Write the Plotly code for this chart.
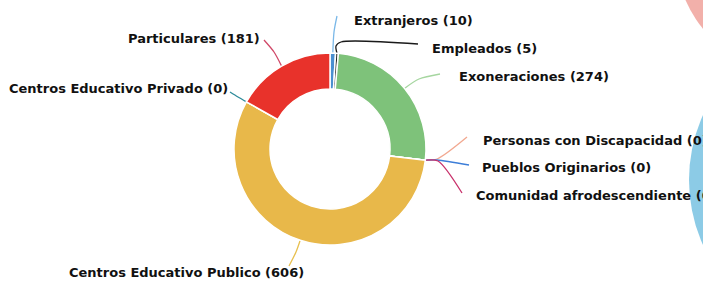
import math
import plotly.graph_objects as go

# ---------------- data ----------------
categories = [
    "Extranjeros", "Empleados", "Exoneraciones",
    "Personas con Discapacidad", "Pueblos Originarios", "Comunidad afrodescendiente",
    "Centros Educativo Publico", "Centros Educativo Privado", "Particulares",
]
values = [10, 5, 274, 0, 0, 0, 606, 0, 181]

# ---------------- styles / layout ----------------
W, H = 703, 283
CX, CY, R = 330, 149, 96          # donut centre / outer radius in pixels
HOLE = 0.625

slice_colors = ["#4a8fd0", "#2a2a2a", "#7ec27a", "#f4a590", "#3d7ed8",
                "#c8306a", "#e8b84a", "#2e8b9a", "#e8322b"]
line_colors = ["#7ab8e8", "#1a1a1a", "#a6d6a0", "#f2a890", "#3d7ed8",
               "#c8306a", "#e8c050", "#2e8b9a", "#d04868"]

# label anchor (text side x, text centre y) and text anchor side
label_pos = {
    "Extranjeros": (352, 20, "left"),
    "Empleados": (430, 48, "left"),
    "Exoneraciones": (457, 76, "left"),
    "Personas con Discapacidad": (481, 140, "left"),
    "Pueblos Originarios": (480, 167, "left"),
    "Comunidad afrodescendiente": (474, 195, "left"),
    "Centros Educativo Publico": (67, 272, "left"),
    "Centros Educativo Privado": (230, 88, "right"),
    "Particulares": (262, 38, "right"),
}
# end of leader line (near the label) and intermediate bend points
leader_end = {
    "Extranjeros": (337, 16),
    "Empleados": (418, 44),
    "Exoneraciones": (440, 74),
    "Personas con Discapacidad": (467, 137),
    "Pueblos Originarios": (469, 165),
    "Comunidad afrodescendiente": (462, 193),
    "Centros Educativo Publico": (289, 266),
    "Centros Educativo Privado": (230, 92),
    "Particulares": (264, 40),
}
leader_mid = {
    "Extranjeros": [(334, 32)],
    "Empleados": [(336, 46), (341, 42)],
    "Exoneraciones": [(419, 79)],
    "Personas con Discapacidad": [(437, 159)],
    "Pueblos Originarios": [(437, 160)],
    "Comunidad afrodescendiente": [(438, 161)],
    "Centros Educativo Publico": [(296, 252)],
    "Centros Educativo Privado": [(238, 97)],
    "Particulares": [(274, 52)],
}

fig = go.Figure()

# invisible helper trace so the pixel-based axes exist
fig.add_trace(go.Scatter(x=[0, W], y=[0, H], mode="markers",
                         marker=dict(opacity=0), hoverinfo="skip", showlegend=False))

# leader lines, starting on the outer edge at each slice's mid-angle
total = sum(values)
cum = 0
for name, v, lc in zip(categories, values, line_colors):
    mid = (cum + v / 2) / total * 2 * math.pi
    cum += v
    sx = CX + R * math.sin(mid)
    sy = CY - R * math.cos(mid)
    pts = [(sx, sy)] + leader_mid[name] + [leader_end[name]]
    fig.add_trace(go.Scatter(
        x=[p[0] for p in pts], y=[p[1] for p in pts], mode="lines",
        line=dict(color=lc, width=1.3, shape="spline", smoothing=0.8),
        hoverinfo="skip", showlegend=False))

# donut
fig.add_trace(go.Pie(
    labels=categories, values=values, sort=False, direction="clockwise",
    rotation=0, hole=HOLE, textinfo="none", showlegend=False,
    marker=dict(colors=slice_colors, line=dict(color="white", width=1.5)),
    domain=dict(x=[(CX - R) / W, (CX + R) / W],
                y=[1 - (CY + R) / H, 1 - (CY - R) / H]),
))

# labels
for name, v in zip(categories, values):
    x, y, side = label_pos[name]
    fig.add_annotation(x=x, y=y, xref="x", yref="y", text=f"<b>{name} ({v})</b>",
                       showarrow=False, xanchor=side, yanchor="middle",
                       font=dict(family="DejaVu Sans", size=13, color="#111111"))

# partially visible neighbouring charts at the right edge
fig.add_shape(type="circle", xref="x", yref="y", x0=675, x1=925, y0=-175, y1=75,
              fillcolor="#f2b0aa", line=dict(width=0), layer="below")
fig.add_shape(type="circle", xref="x", yref="y", x0=689, x1=1005, y0=22, y1=338,
              fillcolor="#8ccbe6", line=dict(width=0), layer="below")

fig.update_layout(
    width=W, height=H, margin=dict(l=0, r=0, t=0, b=0),
    paper_bgcolor="white", plot_bgcolor="white",
    xaxis=dict(range=[0, W], visible=False, fixedrange=True, domain=[0, 1]),
    yaxis=dict(range=[H, 0], visible=False, fixedrange=True, domain=[0, 1]),
    showlegend=False,
)

fig.write_html("out.html", config={"displayModeBar": False},
               post_script="document.body.style.margin='0px';document.body.style.padding='0px';")
